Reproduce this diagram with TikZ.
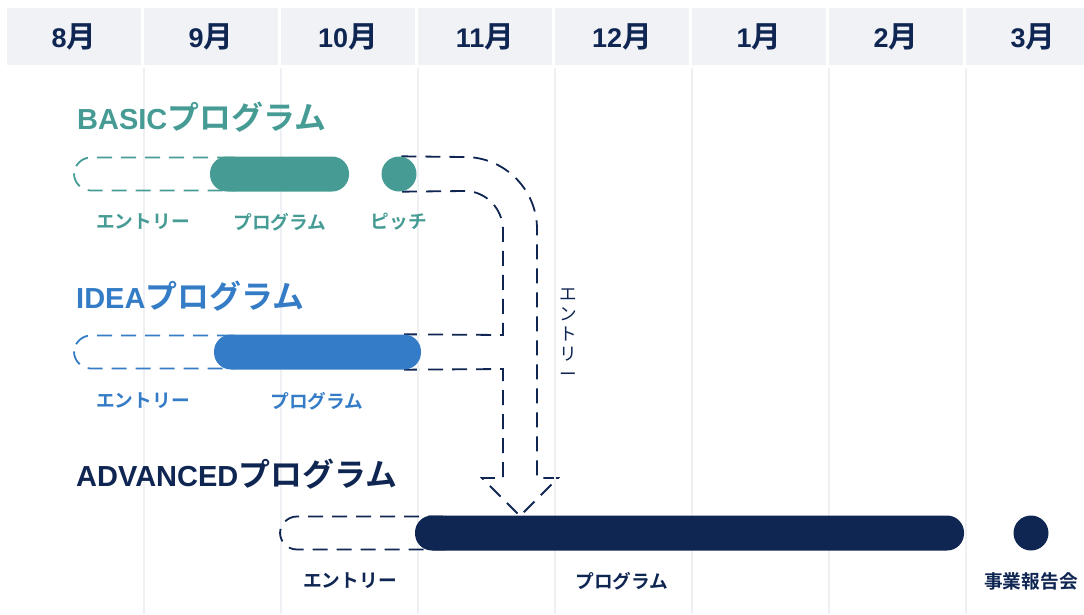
\documentclass[tikz,border=0pt]{standalone}
\usepackage{fontspec}
\setmainfont{Liberation Sans}
\newfontfamily\jpfont{Noto Sans CJK JP}[BoldFont={Noto Sans CJK JP Bold}, Scale=1.1]
\usetikzlibrary{positioning, backgrounds}

\definecolor{basicteal}{HTML}{469C94}
\definecolor{ideablue}{HTML}{357CC6}
\definecolor{advnavy}{HTML}{0F2552}
\definecolor{cellgray}{HTML}{F0F2F6}
\definecolor{gridgray}{HTML}{EEF0F4}

\begin{document}
\begin{tikzpicture}[x=1pt, y=-1pt,
    monthcell/.style={fill=cellgray, minimum width=134pt, minimum height=57pt, inner sep=0pt,
        text=advnavy, font=\fontsize{27}{27}\selectfont\bfseries},
    gridline/.style={draw=gridgray, line width=1.5pt},
    title/.style={anchor=west, inner sep=0pt, text=#1, font=\fontsize{29}{29}\selectfont\bfseries},
    entrybox/.style={draw=#1, line width=1.8pt, dash pattern=on 15pt off 9pt,
        rounded corners=17pt, minimum height=33pt, inner sep=0pt},
    progbar/.style={fill=#1, rounded corners=17pt, minimum height=35pt, inner sep=0pt},
    dot/.style={fill=#1, circle, minimum size=35pt, inner sep=0pt},
    tag/.style={inner sep=0pt, text=#1, font=\fontsize{17}{17}\selectfont\bfseries\jpfont},
    flowline/.style={draw=advnavy, line width=1.8pt, dash pattern=on 15pt off 9pt}
]
    \useasboundingbox (0,0) rectangle (1084,614);

    % month grid
    \foreach \x in {144,281,418,555,692,829,966}
        \draw[gridline] (\x,68) -- (\x,614);
    \foreach \m [count=\i from 0] in {8,9,10,11,12,1,2,3}
        \node[monthcell] (m\m) at ({74+137*\i},36.5) {\m{\jpfont 月}};

    % program titles
    \node[title=basicteal] (basic) at (77,117) {BASIC{\jpfont プログラム}};
    \node[title=ideablue] (idea) at (76,296) {IDEA{\jpfont プログラム}};
    \node[title=advnavy] (adv) at (76,474) {ADVANCED{\jpfont プログラム}};

    % BASIC row
    \node[entrybox=basicteal, minimum width=175pt] (basicentry) at (161.5,174) {};
    \node[progbar=basicteal, minimum width=139pt] (basicprog) at (279.5,174) {};
    \node[dot=basicteal] (pitch) at (399,174) {};
    \node[tag=basicteal] at (143,222) {エントリー};
    \node[tag=basicteal] at (280,222) {プログラム};
    \node[tag=basicteal] at (399,222) {ピッチ};

    % IDEA row
    \node[entrybox=ideablue, minimum width=175pt] (ideaentry) at (161.5,352) {};
    \node[progbar=ideablue, minimum width=207pt] (ideaprog) at (317.5,352) {};
    \node[tag=ideablue] at (143,401) {エントリー};
    \node[tag=ideablue] at (317,401) {プログラム};

    % ADVANCED row
    \node[entrybox=advnavy, minimum width=180pt] (adventry) at (370,533) {};
    \node[progbar=advnavy, minimum width=549pt] (advprog) at (689.5,533) {};
    \node[dot=advnavy] (report) at (1031,533) {};
    \node[tag=advnavy] at (350,581) {エントリー};
    \node[tag=advnavy] at (622,581) {プログラム};
    \node[tag=advnavy] at (1031,581) {事業報告会};

    % entry flow into ADVANCED
    \coordinate (tip) at (520,516);
    \begin{pgfonlayer}{background}
    \draw[flowline] ([xshift=-17pt]ideaprog.south east) -- (503,369) -- (503,478) -- (482,478)
        -- (tip) -- (558,478) -- (537,478) -- (537,229)
        .. controls (537,190) and (505,157) .. (465,157) -- (pitch.north);
    \draw[flowline] ([xshift=-17pt]ideaprog.north east) -- (503,335) -- (503,230)
        .. controls (503,209) and (486,191) .. (465,191) -- (pitch.south);
    \end{pgfonlayer}
    \node[inner sep=0pt, align=center, text=advnavy,
        font=\fontsize{16}{20}\selectfont\jpfont] (flowtag) at (568,335) {エ\\ン\\ト\\リ\\ー};
\end{tikzpicture}
\end{document}
